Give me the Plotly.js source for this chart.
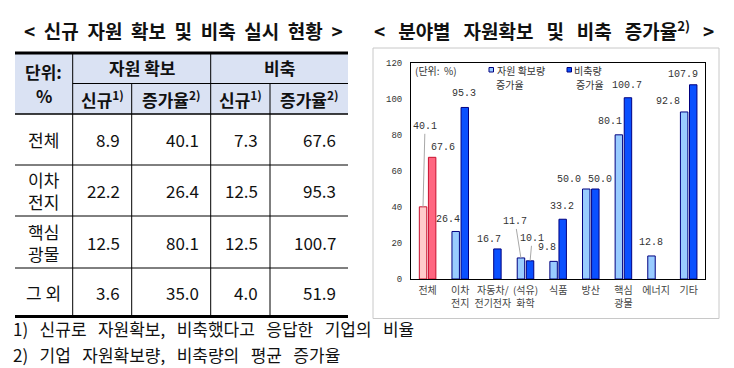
<!DOCTYPE html>
<html>
<head>
<meta charset="utf-8">
<script src="https://cdn.plot.ly/plotly-3.0.1.min.js"></script>
<style>html,body{margin:0;padding:0;background:#fff;}#chart{width:734px;height:368px;}</style>
</head>
<body>
<div id="chart"></div>
<script>
// ---------- DATA ----------
// Left table
const tableRows   = ['전체', '이차<br>전지', '핵심<br>광물', '그 외'];
const newSecure   = [8.9, 22.2, 12.5, 3.6];    // 자원 확보 - 신규
const secureRate  = [40.1, 26.4, 80.1, 35.0];  // 자원 확보 - 증가율
const newStock    = [7.3, 12.5, 12.5, 4.0];    // 비축 - 신규
const stockRate   = [67.6, 95.3, 100.7, 51.9]; // 비축 - 증가율

// Right chart
const sectors      = ['전체', '이차<br>전지', '자동차/<br>전기전자', '(석유)<br>화학', '식품', '방산', '핵심<br>광물', '에너지', '기타'];
const secureGrowth = [40.1, 26.4, null, 11.7, 9.8, 50.0, 80.1, 12.8, 92.8];   // 자원 확보량 증가율
const stockGrowth  = [67.6, 95.3, 16.7, 10.1, 33.2, 50.0, 100.7, null, 107.9]; // 비축량 증가율
const yTickVals    = [0, 20, 40, 60, 80, 100, 120];
const yTickText    = ['0', '20', '40', '60', '80', '100', '120'];

// ---------- LAYOUT HELPERS ----------
const W = 734, H = 368;
const px = x => x / W;
const py = y => 1 - y / H;
const KR = 'Noto Sans CJK KR, Noto Sans, sans-serif';
const MONO = 'Liberation Mono, DejaVu Sans Mono, monospace';
const sp = n => ' ' + '\u00a0'.repeat(n);            // wider word gap
const spaced = (words, n) => words.join(sp(n));

// table geometry (pixels)
const colX = [15, 72.7, 131.7, 210.7, 270, 348];
const rowY = [53, 83.5, 114, 165, 216, 268, 316.5];

const shapes = [];
const annotations = [];

// header fill
shapes.push({type:'rect', xref:'paper', yref:'paper', x0:px(colX[0]), x1:px(colX[5]), y0:py(rowY[0]), y1:py(rowY[2]),
  fillcolor:'#DAE2F3', line:{width:0}, layer:'below'});
// top & bottom thick lines
shapes.push({type:'line', xref:'paper', yref:'paper', x0:px(colX[0]), x1:px(colX[5]), y0:py(rowY[0]), y1:py(rowY[0]), line:{color:'#000', width:3}});
shapes.push({type:'line', xref:'paper', yref:'paper', x0:px(colX[0]), x1:px(colX[5]), y0:py(rowY[6]), y1:py(rowY[6]), line:{color:'#000', width:3}});
// header internal line
shapes.push({type:'line', xref:'paper', yref:'paper', x0:px(colX[1]), x1:px(colX[5]), y0:py(rowY[1]), y1:py(rowY[1]), line:{color:'#000', width:1}});
// row lines
for (let r = 2; r <= 5; r++) {
  shapes.push({type:'line', xref:'paper', yref:'paper', x0:px(colX[0]), x1:px(colX[5]), y0:py(rowY[r]), y1:py(rowY[r]), line:{color:'#000', width:r===2?1.5:1}});
}
// vertical lines
[[1,0],[2,1],[3,0],[4,1]].forEach(([c, startRow]) => {
  shapes.push({type:'line', xref:'paper', yref:'paper', x0:px(colX[c]), x1:px(colX[c]), y0:py(rowY[startRow]), y1:py(rowY[6]), line:{color:'#000', width:1}});
});

function txt(text, x, y, opts) {
  annotations.push(Object.assign({xref:'paper', yref:'paper', x:px(x), y:py(y), text:text, showarrow:false,
    xanchor:'center', yanchor:'middle', font:{family:KR, size:17, color:'#111'}}, opts || {}));
}

// titles
txt('<b>' + spaced(['&lt;', '신규', '자원', '확보', '및', '비축', '실시', '현황', '&gt;'], 1) + '</b>', 183, 30, {font:{family:KR, size:19, color:'#111'}});
txt('<b>' + spaced(['&lt;', '분야별', '자원확보', '및', '비축', '증가율<sup>2)</sup>', '&gt;'], 2) + '</b>', 544, 30, {font:{family:KR, size:19, color:'#111'}});

// table headers
const cx = c => (colX[c] + colX[c+1]) / 2;
txt('<b>단위:</b>', cx(0), 71);
txt('<b>%</b>', cx(0), 95);
txt('<b>자원 확보</b>', (colX[1] + colX[3]) / 2, 68);
txt('<b>비축</b>', (colX[3] + colX[5]) / 2, 68);
['<b>신규<sup>1)</sup></b>', '<b>증가율<sup>2)</sup></b>', '<b>신규<sup>1)</sup></b>', '<b>증가율<sup>2)</sup></b>'].forEach((t, i) => {
  txt(t, cx(i+1), 99);
});
// table body
const bodyCols = [newSecure, secureRate, newStock, stockRate];
tableRows.forEach((label, r) => {
  const yc = (rowY[r+2] + rowY[r+3]) / 2;
  txt(label, cx(0), yc, {font:{family:KR, size:17, color:'#111'}});
  bodyCols.forEach((col, c) => {
    txt(col[r].toFixed(1), colX[c+2] - 10, yc, {xanchor:'right'});
  });
});

// footnotes
txt(spaced(['1)', '신규로', '자원확보,', '비축했다고', '응답한', '기업의', '비율'], 2), 11, 328, {xanchor:'left', font:{family:KR, size:17, color:'#111'}});
txt(spaced(['2)', '기업', '자원확보량,', '비축량의', '평균', '증가율'], 2), 11, 354, {xanchor:'left', font:{family:KR, size:17, color:'#111'}});

// chart outer box
shapes.push({type:'rect', xref:'paper', yref:'paper', x0:px(373), x1:px(719), y0:py(48), y1:py(318.5), line:{color:'#C8C8C8', width:1}});

// manual legend inside plot
const LG = {family:KR, size:10, color:'#333'};
txt('(단위:' + sp(1) + '%)', 413, 70, {xanchor:'left', font:LG});
shapes.push({type:'rect', xref:'paper', yref:'paper', x0:px(489), x1:px(493.5), y0:py(67.5), y1:py(72), fillcolor:'#99CCFF', line:{color:'#000080', width:1}});
txt('자원 확보량', 495, 70, {xanchor:'left', font:LG});
txt('증가율', 494, 84, {xanchor:'left', font:LG});
shapes.push({type:'rect', xref:'paper', yref:'paper', x0:px(567), x1:px(571.5), y0:py(67.5), y1:py(72), fillcolor:'#0A50FF', line:{color:'#000080', width:1}});
txt('비축량', 572, 70, {xanchor:'left', font:LG});
txt('증가율', 574, 84, {xanchor:'left', font:LG});

// value label placement: xshift (px from category centre) & yshift, or leader-line offsets
const secureLabelPos = [{arrow:true, bx:-4.6, ax:2, ay:-80}, {dx:-12.5, dy:11.5}, null, {arrow:true, bx:-4.6, ax:-5.7, ay:-36},
  {dx:-11, dy:13.4}, {dx:-22, dy:10}, {dx:-13, dy:13.8}, {dx:-5, dy:13}, {dx:-20.7, dy:10.3}];
const stockLabelPos = [{dx:15.7, dy:10.3}, {dx:4, dy:13.5}, {dx:-3.7, dy:9}, {arrow:true, bx:4.6, ax:2, ay:-22},
  {dx:4, dy:12.5}, {dx:9.3, dy:10}, {dx:3.6, dy:12.7}, null, {dx:-5.7, dy:9.8}];

function valueLabels(values, pos) {
  values.forEach((v, i) => {
    if (v === null || !pos[i]) return;
    const p = pos[i];
    const base = {xref:'x', yref:'y', x:sectors[i], y:v, text:v.toFixed(1),
      font:{family:MONO, size:10, color:'#333'}};
    if (p.arrow) {
      annotations.push(Object.assign(base, {showarrow:true, arrowhead:0, arrowwidth:1, arrowcolor:'#A8A8A8',
        standoff:0, xshift:p.bx, ax:p.ax, ay:p.ay}));
    } else {
      annotations.push(Object.assign(base, {showarrow:false, xanchor:'center', yanchor:'middle', xshift:p.dx, yshift:p.dy}));
    }
  });
}
valueLabels(secureGrowth, secureLabelPos);
valueLabels(stockGrowth, stockLabelPos);

// ---------- TRACES ----------
const secureFill = sectors.map((s, i) => i === 0 ? '#FFCCCC' : '#99CCFF');
const secureLine = sectors.map((s, i) => i === 0 ? '#C8102E' : '#000080');
const stockFill  = sectors.map((s, i) => i === 0 ? '#FF6680' : '#0A50FF');
const stockLine  = sectors.map((s, i) => i === 0 ? '#C8102E' : '#000080');

const traces = [
  {type:'bar', name:'자원 확보량 증가율', x:sectors, y:secureGrowth, marker:{color:secureFill, line:{color:secureLine, width:1}},
   showlegend:false, hoverinfo:'x+y'},
  {type:'bar', name:'비축량 증가율', x:sectors, y:stockGrowth, marker:{color:stockFill, line:{color:stockLine, width:1}},
   showlegend:false, hoverinfo:'x+y'}
];

const pad = s => s.padStart(3, '\u00a0');

const layout = {
  width: W, height: H, autosize:false,
  margin:{l:0, r:0, t:0, b:0, pad:0},
  paper_bgcolor:'#fff', plot_bgcolor:'#fff',
  barmode:'group', bargap:0.443, bargroupgap:0.18,
  showlegend:false,
  xaxis:{domain:[px(411), px(705)], type:'category', showline:true, mirror:true, linecolor:'#000', linewidth:1,
    ticks:'', showgrid:false, zeroline:false, fixedrange:true, tickangle:0, automargin:false, ticklabelstandoff:2,
    tickfont:{family:KR, size:10, color:'#444'}},
  yaxis:{domain:[py(279), py(63)], range:[0, 120], showline:true, mirror:true, linecolor:'#000', linewidth:1,
    ticks:'', showgrid:false, zeroline:false, fixedrange:true, automargin:false, ticklabelstandoff:6,
    tickmode:'array', tickvals:yTickVals, ticktext:yTickText.map(pad),
    tickfont:{family:MONO, size:9, color:'#333'}},
  shapes: shapes,
  annotations: annotations
};

Plotly.newPlot('chart', traces, layout, {staticPlot:true, displayModeBar:false});
</script>
</body>
</html>
